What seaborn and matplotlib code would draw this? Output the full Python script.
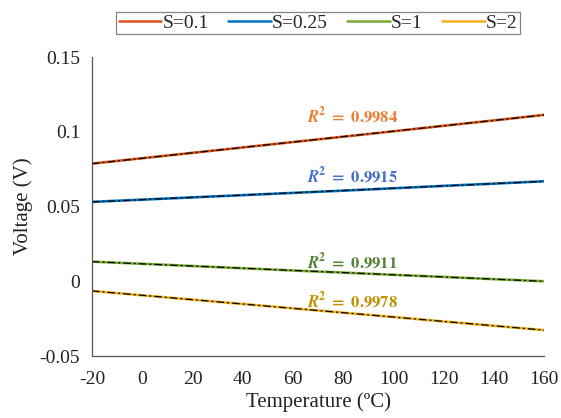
import numpy as np
import pandas as pd
import matplotlib
matplotlib.use("Agg")
import matplotlib.pyplot as plt
import seaborn as sns

temperature = [-20, 0, 20, 40, 60, 80, 100, 120, 140, 160]
v_s01 = [0.0787, 0.0823, 0.0859, 0.0895, 0.0931, 0.0967, 0.1003, 0.1040, 0.1076, 0.1113]
v_s025 = [0.0531, 0.0546, 0.0561, 0.0576, 0.0591, 0.0606, 0.0622, 0.0638, 0.0653, 0.0669]
v_s1 = [0.0131, 0.0117, 0.0102, 0.0087, 0.0072, 0.0058, 0.0043, 0.0029, 0.0014, 0.0000]
v_s2 = [-0.0065, -0.0094, -0.0123, -0.0152, -0.0181, -0.0210, -0.0239, -0.0269, -0.0298, -0.0327]
series_names = ["S=0.1", "S=0.25", "S=1", "S=2"]
r2_labels = ["0.9984", "0.9915", "0.9911", "0.9978"]
r2_pos = [(65.5, 0.1107), (65.5, 0.0703), (65.5, 0.0129), (65.5, -0.0131)]
line_colors = ["#D95319", "#0072BD", "#77AC30", "#EDB120"]
text_colors = ["#ED7D31", "#4472C4", "#548235", "#BF9000"]

sns.set_theme(style="white")
plt.rcParams["font.family"] = ["Liberation Serif", "DejaVu Serif"]
plt.rcParams["mathtext.fontset"] = "stix"

fig = plt.figure(figsize=(5.61, 4.18), dpi=100)
ax = fig.add_axes([0.164, 0.1483, 0.806, 0.7153])

vals = [v_s01, v_s025, v_s1, v_s2]
for name, v, c in zip(series_names, vals, line_colors):
    df = pd.DataFrame({"T": temperature, "V": v})
    sns.lineplot(data=df, x="T", y="V", ax=ax, color=c, linewidth=1.9, label=name)
    coef = np.polyfit(temperature, v, 1)
    fit = np.polyval(coef, temperature)
    ax.plot(temperature, fit, color="black", linestyle="-.", linewidth=0.9,
            dashes=(6, 2.5, 1.5, 2.5))

for (x, y), lab, c in zip(r2_pos, r2_labels, text_colors):
    ax.text(x, y, r"$\mathbfit{R}^{\mathbf{2}}\ \mathbf{=\ " + lab + "}$",
            color=c, fontsize=12, ha="left", va="center")

ax.set_xlim(-20, 160)
ax.set_ylim(-0.05, 0.15)
ax.set_xticks(list(range(-20, 161, 20)))
ax.set_yticks([-0.05, 0, 0.05, 0.1, 0.15])
ax.set_yticklabels(["-0.05", "0", "0.05", "0.1", "0.15"])
ax.set_xticklabels([str(t) for t in range(-20, 161, 20)])
ax.tick_params(axis="both", direction="in", length=4, width=0.8, colors="#444444",
               labelsize=14, labelcolor="#222222")
ax.tick_params(axis="y", pad=8.5)
ax.tick_params(axis="x", pad=11)
for s in ["top", "right"]:
    ax.spines[s].set_visible(False)
for s in ["left", "bottom"]:
    ax.spines[s].set_color("#555555")
    ax.spines[s].set_linewidth(0.9)
ax.set_xlabel("Temperature (ºC)", fontsize=15, color="#222222", labelpad=3)
ax.set_ylabel("Voltage (V)", fontsize=15, color="#222222", labelpad=5)

leg = ax.legend(loc="center", bbox_to_anchor=(318 / 561, 0.945),
                bbox_transform=fig.transFigure, ncol=4, fontsize=14,
                frameon=True, fancybox=False, edgecolor="#666666", handlelength=2.2,
                handletextpad=0.05, columnspacing=1.0, borderpad=0.12,
                borderaxespad=0)
leg.get_frame().set_linewidth(0.9)
for line in leg.get_lines():
    line.set_linewidth(1.8)

fig.savefig("out.png", dpi=100)
